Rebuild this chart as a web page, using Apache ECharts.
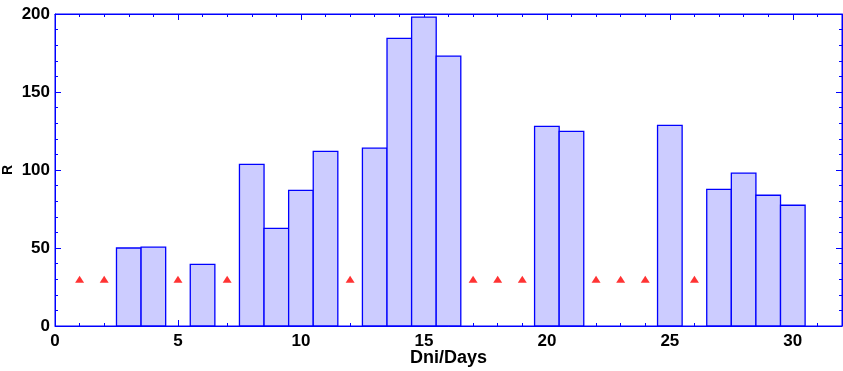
<!DOCTYPE html>
<html>
<head>
<meta charset="utf-8">
<script src="https://cdn.jsdelivr.net/npm/echarts@6/dist/echarts.min.js"></script>
<style>html,body{margin:0;padding:0;background:#fff}#c{width:843px;height:371px}</style>
</head>
<body>
<div id="c"></div>
<script>
const barDays = [3, 4, 6, 8, 9, 10, 11, 13, 14, 15, 16, 20, 21, 25, 27, 28, 29, 30];
const barValues = [50, 50.5, 39.5, 103.6, 62.6, 87, 112, 114, 184.4, 198, 173, 128, 124.8, 128.6, 87.6, 98, 83.8, 77.4];
const markDays = [1, 2, 5, 7, 12, 17, 18, 19, 22, 23, 24, 26];
const markValue = 30;
const xTicks = [0, 5, 10, 15, 20, 25, 30];
const yTicks = [0, 50, 100, 150, 200];

const chart = echarts.init(document.getElementById('c'), null, {renderer: 'canvas'});
const blue = '#0000ff';
const fam = 'Liberation Sans, Arial, sans-serif';
const labelFont = {color: '#000', fontFamily: fam, fontWeight: 'bold', fontSize: 17};
function axisBase(extra) {
  return Object.assign({
    type: 'value',
    show: true,
    axisLine: {show: true, onZero: false, lineStyle: {color: blue, width: 1}},
    axisTick: {show: true, inside: true, length: 6, lineStyle: {color: blue}},
    minorTick: {show: true, splitNumber: 5, length: 3, lineStyle: {color: blue}},
    splitLine: {show: false},
    minorSplitLine: {show: false}
  }, extra);
}
chart.setOption({
  animation: false,
  grid: {left: 55, right: 1, top: 14, bottom: 45, containLabel: false, outerBoundsMode: 'none',
    show: true, borderColor: blue, borderWidth: 1, backgroundColor: 'transparent'},
  xAxis: [
    axisBase({position: 'bottom', min: 0, max: 32, interval: 5,
      axisLabel: Object.assign({margin: 7, showMaxLabel: false}, labelFont),
      name: 'Dni/Days', nameLocation: 'middle', nameGap: 23, nameMoveOverlap: false,
      nameTextStyle: {color: '#000', fontFamily: fam, fontWeight: 'bold', fontSize: 18}}),
    axisBase({position: 'top', min: 0, max: 32, interval: 5, axisLabel: {show: false}})
  ],
  yAxis: [
    axisBase({position: 'left', min: 0, max: 200, interval: 50,
      axisLabel: Object.assign({margin: 5}, labelFont),
      name: 'R', nameLocation: 'middle', nameGap: 40, nameRotate: 90, nameMoveOverlap: false,
      nameTextStyle: {color: '#000', fontFamily: fam, fontWeight: 'bold', fontSize: 14}}),
    axisBase({position: 'right', min: 0, max: 200, interval: 50, axisLabel: {show: false}})
  ],
  series: [
    {
      type: 'custom',
      xAxisIndex: 0, yAxisIndex: 0,
      data: barDays.map((d, i) => [d, barValues[i]]),
      renderItem: function (params, api) {
        const x = api.value(0), y = api.value(1);
        const p0 = api.coord([x - 0.5, y]);
        const p1 = api.coord([x + 0.5, 0]);
        return {
          type: 'rect',
          shape: {x: p0[0], y: p0[1], width: p1[0] - p0[0], height: p1[1] - p0[1]},
          style: {fill: '#ccccff', stroke: blue, lineWidth: 1.3}
        };
      },
      z: 2
    },
    {
      type: 'scatter',
      xAxisIndex: 0, yAxisIndex: 0,
      symbol: 'triangle',
      symbolSize: [9, 7],
      itemStyle: {color: '#ff0000'},
      data: markDays.map(d => [d, markValue]),
      z: 3
    }
  ]
});
</script>
</body>
</html>
